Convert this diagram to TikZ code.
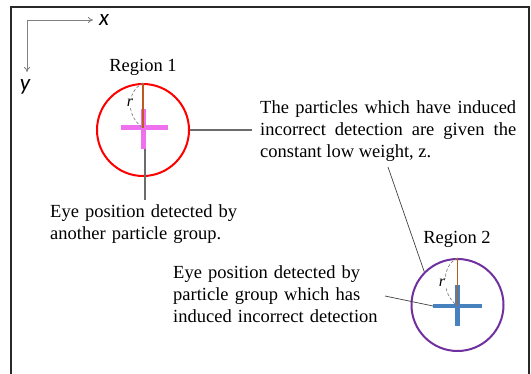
\documentclass[tikz,border=0pt]{standalone}
\usepackage{fontspec}
\setmainfont{Liberation Serif}
\newfontfamily\axfont{Carlito}
\usetikzlibrary{arrows.meta}
\definecolor{crosspink}{RGB}{238,112,238}
\definecolor{crossblue}{RGB}{72,130,190}
\definecolor{regpurple}{RGB}{112,48,160}
\definecolor{radbrown}{RGB}{190,90,30}
\definecolor{framegray}{RGB}{40,40,40}
\tikzset{
  txt/.style={font=\fontsize{18.5}{22}\selectfont, inner xsep=0pt, inner ysep=5pt, align=left},
  axislbl/.style={font=\axfont\itshape\fontsize{23}{25}\selectfont, inner sep=0pt},
  axisline/.style={draw=gray, line width=0.8pt, {To[length=5pt,width=6pt]}-{To[length=5pt,width=6pt]}},
  regcircle/.style={circle, line width=2pt, inner sep=0pt, minimum size=92pt},
  radline/.style={draw=radbrown, line width=1.4pt},
  radarc/.style={draw=gray, line width=0.7pt, dash pattern=on 3pt off 2pt},
  rlabel/.style={font=\itshape\fontsize{16}{18}\selectfont, fill=white, inner sep=0.5pt},
  conngray/.style={draw=gray!85!black, line width=1.1pt},
  connthin/.style={draw=black!75, line width=0.7pt},
}
\begin{document}
\begin{tikzpicture}[x=1pt,y=-1pt]
\useasboundingbox (0,0) rectangle (531,374);
% frame (open at bottom)
\draw[framegray, line width=2pt] (11,390) -- (11,7) -- (529,7) -- (529,390);

% axes
\coordinate (o) at (27,20);
\coordinate (xe) at (93,20);
\coordinate (ye) at (27,72);
\draw[axisline] (xe) -- (o) -- (ye);
\node[axislbl] (xl) at (104,20) {x};
\node[axislbl] (yl) at (25,87) {y};

% Region 1
\node[txt, inner ysep=0pt] (r1lbl) at (143,67) {Region 1};
\node[regcircle, draw=red] (c1) at (143,130) {};
\fill[crosspink] (121,125.5) rectangle (168,130.5);
\fill[crosspink] (141,109) rectangle (145.5,149);
\coordinate (x1) at (143,128);
\coordinate (x1b) at (145,149);
\draw[radline] (c1.north) -- (x1);
\draw[radarc] (c1.north) .. controls (126,92) and (126,116) .. (x1);
\node[rlabel] (r1) at (130,103) {r};

% Region 2
\node[txt, inner ysep=0pt] (r2lbl) at (457,239) {Region 2};
\node[regcircle, draw=regpurple] (c2) at (457.5,305) {};
\fill[crossblue] (433,304) rectangle (482,308.5);
\fill[crossblue] (455,285) rectangle (459.5,326);
\coordinate (x2) at (457.5,306);
\coordinate (x2w) at (433,306);
\draw[radline] (c2.north) -- (x2);
\draw[radarc] (c2.north) .. controls (441,266) and (441,294) .. (x2);
\node[rlabel] (r2) at (442,283) {r};

% texts
\node[txt, anchor=base west, text width=256pt, align=justify] (t1) at (260,114)
  {The particles which have induced\linebreak incorrect detection are given the\linebreak constant low weight, z.};
\node[txt, anchor=base west, text width=220pt] (t2) at (50,218)
  {Eye position detected by\\another particle group.};
\node[txt, anchor=base west, text width=230pt] (t3) at (173,279)
  {Eye position detected by\\particle group which has\\induced incorrect detection};

% connectors
\draw[conngray] (c1.east) -- ([xshift=-8pt]c1.east -| t1.west);
\draw[conngray] (x1b) -- (x1b |- t2.north);
\coordinate (t1s) at (388,167);
\draw[connthin] (t1s) -- (c2.135);
\coordinate (t3e) at (385,296);
\draw[connthin] (t3e) -- (x2w);
\end{tikzpicture}
\end{document}
